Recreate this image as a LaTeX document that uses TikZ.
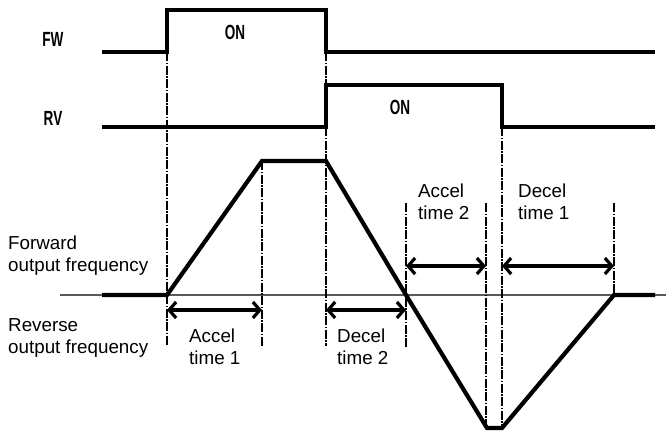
\documentclass[tikz,border=0pt]{standalone}
\usepackage{fontspec}
\setmainfont{Liberation Sans}
\usetikzlibrary{arrows.meta}
\begin{document}
\begin{tikzpicture}[x=1pt,y=-1pt,
  sig/.style={line width=3.8pt},
  freq/.style={line width=4.2pt},
  axis/.style={line width=1.3pt,black!65},
  guide/.style={line width=1.2pt,dash pattern=on 9pt off 1.5pt on 1.5pt off 1.5pt},
  span/.style={line width=3.2pt,{Straight Barb[length=7pt,width=16pt]}-{Straight Barb[length=7pt,width=16pt]}},
  siglabel/.style={font=\bfseries\fontsize{20.5}{22}\selectfont,xscale=0.66,inner sep=0},
  lbl/.style={font=\fontsize{18.8}{22}\selectfont,align=left,anchor=north west,inner sep=0}]
\useasboundingbox (0,0) rectangle (666,432);
% key coordinates
\coordinate (fwA) at (102,52);  \coordinate (fwB) at (167,52);
\coordinate (fwC) at (167,10);  \coordinate (fwD) at (326,10);
\coordinate (fwE) at (326,52);  \coordinate (fwF) at (655,52);
\coordinate (rvA) at (102,127); \coordinate (rvB) at (326,127);
\coordinate (rvC) at (326,85);  \coordinate (rvD) at (502,85);
\coordinate (rvE) at (502,127); \coordinate (rvF) at (655,127);
\coordinate (fA) at (102,295); \coordinate (fB) at (167,295);
\coordinate (fC) at (262,161); \coordinate (fD) at (326,161);
\coordinate (fE) at (406,295); \coordinate (fF) at (487,428);
\coordinate (fG) at (502,428); \coordinate (fH) at (614,295);
\coordinate (fI) at (655,295);
\coordinate (axL) at (60,295); \coordinate (axR) at (666,295);
% axis
\draw[axis] (axL) -- (axR);
% guide lines
\coordinate (g1b) at (167,346);
\coordinate (g2b) at (262,346);
\coordinate (g3b) at (326,346);
\coordinate (g4t) at (406,203); \coordinate (g4b) at (406,348);
\coordinate (g5t) at (486,203); \coordinate (g5b) at (486,428);
\coordinate (g6b) at (502,428);
\coordinate (g7t) at (614,203);
\draw[guide] (fwB) -- (g1b);
\draw[guide] (fC) -- (g2b);
\draw[guide] (fwE) -- (rvC);
\draw[guide] (rvB) -- (g3b);
\draw[guide] (g4t) -- (g4b);
\draw[guide] (g5t) -- (g5b);
\draw[guide] (rvE) -- (g6b);
\draw[guide] (g7t) -- (fH);
% signals
\draw[sig] (fwA) -- (fwB) -- (fwC) -- (fwD) -- (fwE) -- (fwF);
\draw[sig] (rvA) -- (rvB) -- (rvC) -- (rvD) -- (rvE) -- (rvF);
\draw[freq] (fA) -- (fB) -- (fC) -- (fD) -- (fE) -- (fF) -- (fG) -- (fH) -- (fI);
% spans
\coordinate (s1a) at (167,310); \coordinate (s1b) at (262,310);
\coordinate (s2a) at (326,310); \coordinate (s2b) at (406,310);
\coordinate (s3a) at (406,266); \coordinate (s3b) at (486,266);
\coordinate (s4a) at (502,266); \coordinate (s4b) at (614,266);
\draw[span] (s1a) -- (s1b);
\draw[span] (s2a) -- (s2b);
\draw[span] (s3a) -- (s3b);
\draw[span] (s4a) -- (s4b);
% signal labels
\node[siglabel] (fw) at (53,39) {FW};
\node[siglabel] (rv) at (53,118) {RV};
\node[siglabel] (on1) at (235,32) {ON};
\node[siglabel] (on2) at (400,107) {ON};
% text labels
\node[lbl] (fwd) at (8,236) {Forward\\output frequency};
\node[lbl] (rev) at (8,318) {Reverse\\output frequency};
\node[lbl] (at1) at (189,329) {Accel\\time 1};
\node[lbl] (dt2) at (337,329) {Decel\\time 2};
\node[lbl] (at2) at (418,184) {Accel\\time 2};
\node[lbl] (dt1) at (518,184) {Decel\\time 1};
\end{tikzpicture}
\end{document}
